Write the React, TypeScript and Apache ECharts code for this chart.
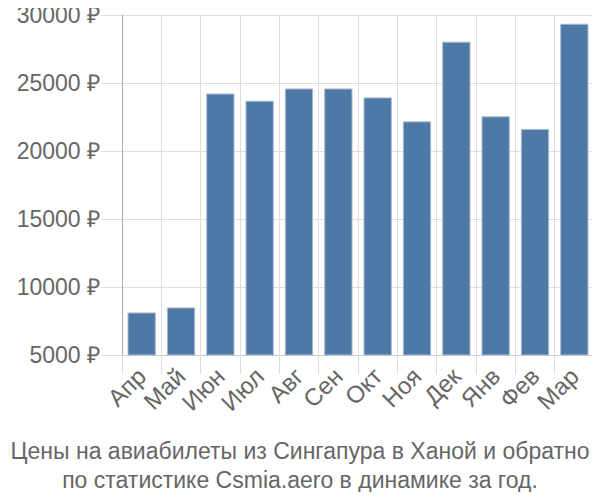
import React, { useEffect, useRef } from "react";
import * as echarts from "echarts";

const months = ["Апр", "Май", "Июн", "Июл", "Авг", "Сен", "Окт", "Ноя", "Дек", "Янв", "Фев", "Мар"];
const prices = [8130, 8500, 24230, 23700, 24600, 24600, 23940, 22180, 28040, 22550, 21620, 29360];
const titleLines = [
  "Цены на авиабилеты из Сингапура в Ханой и обратно",
  "по статистике Csmia.aero в динамике за год.",
];

export default function App() {
  const ref = useRef<HTMLDivElement>(null);
  useEffect(() => {
    if (!ref.current) return;
    const chart = echarts.init(ref.current, null, { renderer: "svg" });
    const font = "'Liberation Sans', Arial, sans-serif";
    chart.setOption({
      animation: false,
      textStyle: { fontFamily: font },
      title: {
        text: titleLines.join("\n"),
        left: "center",
        top: 431,
        textStyle: { fontFamily: font, fontSize: 23, fontWeight: "normal", color: "#666", lineHeight: 29 },
      },
      grid: { left: 122, right: 6, top: 15, bottom: 145 },
      xAxis: {
        type: "category",
        data: months,
        axisLine: { lineStyle: { color: "#ccc" } },
        axisTick: { show: true, length: 19, lineStyle: { color: "#ddd" } },
        splitLine: { show: true, lineStyle: { color: "#ddd" } },
        axisLabel: { rotate: 45, interval: 0, fontSize: 24, color: "#666", fontFamily: font, margin: 17 },
      },
      yAxis: {
        type: "value",
        min: 5000,
        max: 30000,
        interval: 5000,
        axisLine: { show: true, lineStyle: { color: "#aaa" } },
        axisTick: { show: true, length: 20, lineStyle: { color: "#ddd" } },
        splitLine: { show: true, lineStyle: { color: "#ddd" } },
        axisLabel: { fontSize: 23, color: "#666", fontFamily: font, margin: 22, formatter: (v: number) => v + " ₽" },
      },
      series: [
        {
          type: "bar",
          data: prices,
          barCategoryGap: "28%",
          itemStyle: { color: "#4e79a7", borderColor: "#a9bdd3", borderWidth: 1 },
        },
      ],
    });
    return () => chart.dispose();
  }, []);
  return <div ref={ref} style={{ width: 600, height: 500, margin: -8 }} />;
}
